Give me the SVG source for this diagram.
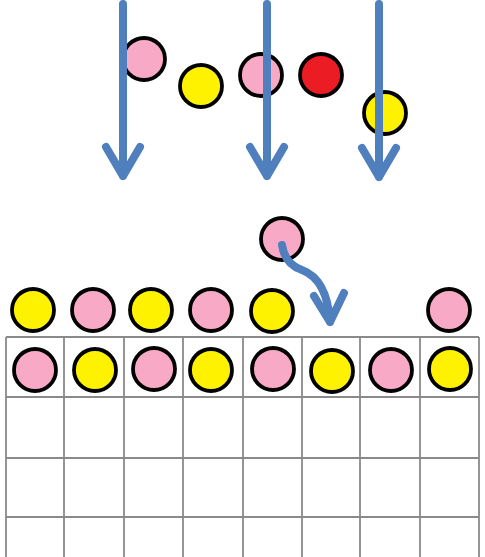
<svg xmlns="http://www.w3.org/2000/svg" width="485" height="557" viewBox="0 0 485 557">
<defs>
<style>
.grid line{stroke:#8a8a8a;stroke-width:1.8}
.ball{stroke:#000;stroke-width:3.8}
.p{fill:#F7A9C6}
.y{fill:#FFF200}
.r{fill:#EC1C24}
.arr{fill:none;stroke:#4F7FBC;stroke-width:8;stroke-linecap:round;stroke-linejoin:round}
</style>
</defs>
<rect width="485" height="557" fill="#fff"/>
<g id="grid" class="grid">
<line x1="6" y1="337" x2="479" y2="337"/>
<line x1="6" y1="397" x2="479" y2="397"/>
<line x1="6" y1="458" x2="479" y2="458"/>
<line x1="6" y1="517" x2="479" y2="517"/>
<line x1="6" y1="337" x2="6" y2="557"/>
<line x1="64" y1="337" x2="64" y2="557"/>
<line x1="124" y1="337" x2="124" y2="557"/>
<line x1="183" y1="337" x2="183" y2="557"/>
<line x1="243" y1="337" x2="243" y2="557"/>
<line x1="302" y1="337" x2="302" y2="557"/>
<line x1="360" y1="337" x2="360" y2="557"/>
<line x1="420" y1="337" x2="420" y2="557"/>
<line x1="479" y1="337" x2="479" y2="557"/>
</g>
<g id="falling">
<circle class="ball p" cx="144" cy="59" r="21"/>
<circle class="ball y" cx="201" cy="86" r="21"/>
<circle class="ball p" cx="261" cy="75" r="21"/>
<circle class="ball r" cx="321" cy="75" r="21"/>
<circle class="ball y" cx="385" cy="113" r="21"/>
</g>
<g id="floating">
<circle class="ball p" cx="282" cy="239" r="21"/>
</g>
<g id="stack-top">
<circle class="ball y" cx="33" cy="310" r="21"/>
<circle class="ball p" cx="93" cy="310" r="21"/>
<circle class="ball y" cx="151" cy="310" r="21"/>
<circle class="ball p" cx="211" cy="310" r="21"/>
<circle class="ball y" cx="272" cy="311" r="21"/>
<circle class="ball p" cx="449" cy="310" r="21"/>
</g>
<g id="row1">
<circle class="ball p" cx="35" cy="370" r="21"/>
<circle class="ball y" cx="95" cy="370" r="21"/>
<circle class="ball p" cx="154" cy="369" r="21"/>
<circle class="ball y" cx="211" cy="370" r="21"/>
<circle class="ball p" cx="273" cy="369" r="21"/>
<circle class="ball y" cx="332" cy="371" r="21"/>
<circle class="ball p" cx="391" cy="370" r="21"/>
<circle class="ball y" cx="450" cy="369" r="21"/>
</g>
<g id="connectors">
<path class="arr" d="M123 4 V176 M106 147 L123 176 L140 147"/>
<path class="arr" d="M267 4 V176 M250 147 L267 176 L284 147"/>
<path class="arr" d="M379 4 V177 M362 148 L379 177 L396 148"/>
<path class="arr" d="M282 245 C284 258 290 266 302 270 C318 276 328 292 330 322 M314 296 L330 322 L344 293"/>
</g>
</svg>
